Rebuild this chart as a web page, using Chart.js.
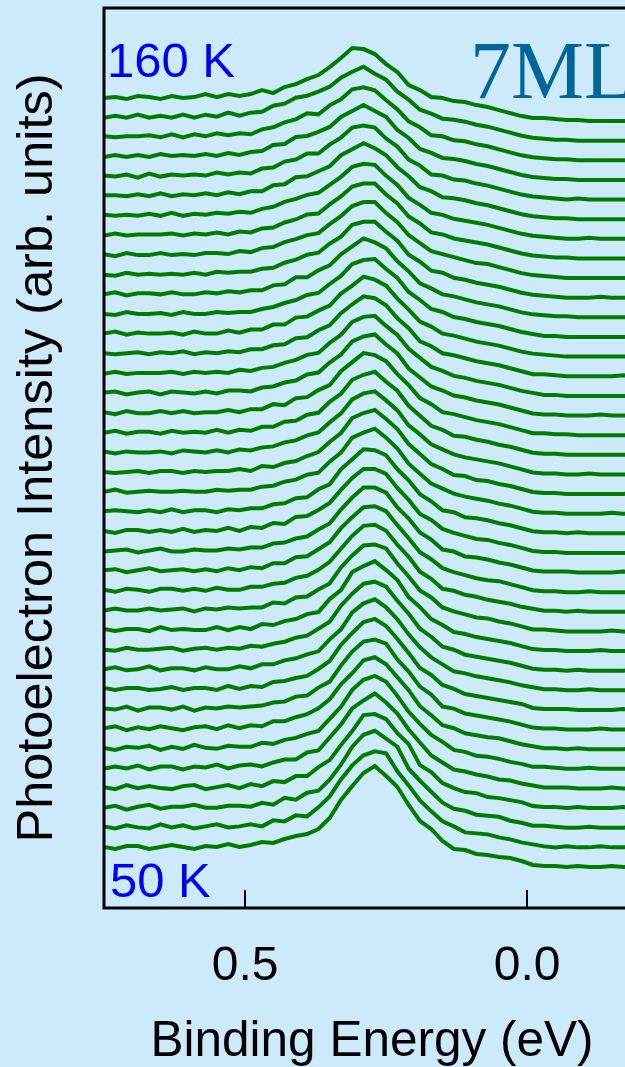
<!DOCTYPE html>
<html>
<head>
<meta charset="utf-8">
<script src="https://cdn.jsdelivr.net/npm/chart.js@4.4.0/dist/chart.umd.min.js"></script>
<style>
html,body{margin:0;padding:0;background:#cdeafb;overflow:hidden;width:625px;height:1067px;}
#wrap{width:650px;height:1067px;}
canvas{display:block;}
</style>
</head>
<body>
<div id="wrap"><canvas id="c" width="650" height="1067"></canvas></div>
<script>
// Binding energy grid (eV), high to low
const energy = [0.75,0.73,0.71,0.69,0.67,0.65,0.63,0.61,0.59,0.57,0.55,0.53,0.51,0.49,0.47,0.45,0.43,0.41,0.39,0.37,0.35,0.33,0.31,0.29,0.27,0.25,0.23,0.21,0.19,0.17,0.15,0.13,0.11,0.09,0.07,0.05,0.03,0.01,-0.01,-0.03,-0.05,-0.07,-0.09,-0.11,-0.13,-0.15,-0.17,-0.19,-0.21];
const xTicks = [0.5, 0.0];
const tempLabels = ['160 K', '50 K'];
const sampleLabel = '7ML';

// Spectra, bottom (50 K) to top (160 K), intensity in arb. units (before offset)
const curve00 = [20,18,21,21,18,20,22,20,18,21,20,23,20, 22,25,24,28,31,33,38, 49,67,81,94,101,91,80,62,46,38,26, 18,17,13,12,10,9,6,2,1,1,0,1,0,0,1,0,0,0];
const curve01 = [21,19,22,20,19,23,20,22,19,21,23,20,21, 23,21,27,26,32,31,40, 51,68,82,92,96,94,76,62,47,36,26, 21,15,14,13,10,8,5,3,1,0,1,0,0,1,0,0,0,0];
const curve02 = [20,22,18,21,23,19,21,21,23,20,20,22,22, 21,25,23,30,28,35,37, 48,63,81,93,97,89,81,59,47,36,25, 19,17,13,12,11,7,5,2,2,1,0,0,1,0,0,0,1,0];
const curve03 = [21,19,23,20,22,20,19,22,23,19,21,23,20, 24,22,27,26,32,32,41, 48,63,77,93,94,89,75,64,43,36,25, 20,16,15,11,10,8,6,2,1,1,0,1,0,0,0,1,0,0];
const curve04 = [20,22,20,23,19,22,22,19,22,21,24,20,23, 24,22,26,29,29,36,38, 51,64,80,88,95,86,75,59,46,33,26, 19,17,14,12,9,8,5,3,1,1,1,0,0,0,1,0,0,0];
const curve05 = [21,19,22,21,23,19,22,20,24,21,20,23,22, 22,26,25,29,31,35,38, 50,62,79,89,93,87,73,57,45,34,27, 19,17,13,12,10,7,5,2,2,1,0,0,1,0,0,0,0,0];
const curve06 = [21,23,19,22,20,23,21,19,22,23,20,24,21, 24,23,28,28,32,35,41, 50,65,76,89,92,85,72,59,43,34,24, 21,16,14,12,11,8,5,3,1,1,0,1,0,0,0,0,1,0];
const curve07 = [21,20,23,19,22,22,20,23,19,22,21,23,22, 23,24,27,28,33,34,42, 48,64,78,88,90,86,70,58,43,35,23, 21,16,14,12,10,8,5,2,1,1,0,0,0,1,0,0,0,0];
const curve08 = [22,20,22,22,20,21,23,20,22,22,20,24,21, 24,23,28,29,32,34,41, 49,65,77,88,91,84,71,57,42,35,25, 21,16,14,12,10,8,6,2,1,1,1,0,0,0,0,1,0,0];
const curve09 = [21,23,20,21,24,20,22,22,20,23,21,21,24, 22,26,26,30,32,36,39, 51,61,78,87,91,83,71,56,43,33,26, 19,17,14,12,10,8,5,3,1,1,0,0,1,0,0,0,0,0];
const curve10 = [21,20,23,21,21,22,23,20,22,23,21,23,22, 25,24,27,29,33,35,42, 49,65,77,87,89,84,70,57,42,34,24, 21,16,14,12,10,8,5,2,1,1,0,1,0,0,0,0,1,0];
const curve11 = [22,20,22,22,20,24,21,22,21,21,24,21,24, 22,27,26,30,32,37,39, 52,61,79,85,90,81,71,54,44,32,26, 19,17,14,12,10,8,5,2,1,1,0,0,0,1,0,0,0,0];
const curve12 = [21,23,21,21,23,21,22,23,20,23,22,24,23, 24,24,29,28,34,35,42, 48,64,76,86,87,83,68,55,41,34,24, 20,17,14,13,10,8,5,2,2,1,0,0,0,0,1,0,0,0];
const curve13 = [22,20,23,22,20,23,23,21,23,21,24,22,22, 25,25,28,29,34,36,42, 50,63,76,86,87,81,67,55,40,33,23, 21,17,15,12,10,8,5,3,1,1,0,1,0,0,0,0,0,0];
const curve14 = [22,23,20,22,24,21,22,23,21,23,21,24,22, 25,24,29,29,35,36,43, 50,64,75,85,86,81,67,54,40,33,24, 20,17,14,12,11,8,5,2,1,1,0,0,1,0,0,0,0,0];
const curve15 = [21,22,23,20,22,24,21,21,23,22,22,24,23, 25,25,29,30,34,36,43, 49,63,75,85,85,80,65,54,40,33,23, 21,16,15,13,10,8,5,2,1,1,1,0,0,0,0,1,0,0];
const curve16 = [22,20,23,23,21,23,21,24,21,23,22,25,22, 26,25,30,29,36,37,43, 50,63,75,84,84,79,65,53,39,33,24, 20,17,14,13,10,8,5,2,1,1,0,0,0,0,0,0,0,0];
const curve17 = [22,23,22,21,23,21,24,21,23,23,21,24,23, 25,25,29,30,35,36,44, 49,64,74,84,83,78,64,53,39,32,23, 21,16,15,13,10,8,5,2,1,1,0,1,0,0,0,0,0,0];
const curve18 = [22,24,21,22,23,22,22,23,22,22,24,23,24, 24,27,28,32,34,39,41, 52,61,76,81,85,76,65,50,40,30,25, 20,17,15,13,10,8,5,2,1,1,0,0,0,0,1,0,0,0];
const curve19 = [22,21,22,23,21,23,23,21,23,22,23,23,25, 23,28,27,31,33,38,42, 52,61,76,81,84,75,65,50,40,30,25, 19,18,14,13,10,8,5,2,1,1,0,0,0,0,0,0,1,0];
const curve20 = [23,21,23,22,22,23,21,24,23,22,24,22,25, 24,27,28,32,34,39,42, 52,61,75,81,83,74,64,49,40,30,25, 20,17,15,13,11,8,5,2,1,1,0,0,1,0,0,0,0,0];
const curve21 = [22,24,21,23,23,21,24,22,23,22,25,22,25, 24,28,28,33,34,40,42, 53,61,75,80,83,73,64,49,39,29,25, 19,18,15,13,10,8,5,2,1,1,0,0,0,0,0,0,0,0];
const curve22 = [23,21,24,22,22,24,22,24,22,23,23,25,23, 26,26,31,30,37,38,45, 50,64,73,82,80,74,61,50,37,31,23, 21,18,15,13,11,8,5,2,2,1,1,0,0,0,0,0,0,0];
const curve23 = [23,24,21,23,24,21,24,23,22,24,22,25,25, 24,28,29,33,35,41,43, 53,61,74,79,81,71,62,47,38,29,25, 20,18,15,13,11,8,5,2,1,1,0,0,0,1,0,0,0,0];
const curve24 = [22,24,22,23,23,23,24,22,24,23,24,23,26, 25,28,29,33,36,41,43, 53,61,74,79,80,70,61,47,38,29,25, 20,18,15,13,11,8,5,3,1,1,0,0,0,0,0,0,0,0];
const curve25 = [23,22,23,24,22,24,23,25,22,24,23,25,24, 27,27,31,32,38,39,46, 51,63,72,80,78,71,58,48,35,30,23, 21,18,15,13,11,8,5,2,2,1,0,0,0,0,0,1,0,0];
const curve26 = [23,25,22,24,23,23,24,22,25,23,23,26,24, 27,27,32,32,39,40,46, 51,63,71,80,77,71,58,47,35,30,23, 21,18,15,13,11,8,5,3,2,1,0,0,0,0,0,0,0,0];
const curve27 = [23,22,25,23,23,24,22,25,23,23,25,24,25, 25,28,30,34,37,42,44, 53,61,73,77,78,68,59,45,37,28,25, 20,18,15,13,11,8,5,3,1,1,0,0,0,0,0,0,0,0];
const curve28 = [23,25,22,24,24,23,25,23,23,25,24,26,25, 27,27,32,33,40,40,47, 52,63,71,79,75,69,56,46,34,29,23, 21,18,15,13,11,8,5,3,2,1,1,0,0,0,0,0,0,0];
const curve29 = [23,22,25,23,24,23,24,23,25,23,26,25,26, 26,29,30,35,38,43,45, 54,61,73,76,76,66,57,43,36,27,25, 20,18,15,13,11,8,5,3,2,1,0,0,0,1,0,0,0,0];
const curve30 = [24,22,25,23,23,25,23,24,23,25,25,24,27, 26,30,31,36,39,43,45, 54,62,72,76,76,65,56,43,35,27,24, 21,18,15,14,11,8,5,3,2,1,0,0,0,0,0,0,0,0];
const curve31 = [23,25,23,24,24,24,25,23,25,24,26,24,27, 26,30,31,36,39,44,45, 54,62,72,75,75,64,55,42,35,26,24, 20,18,16,14,11,8,5,3,2,1,1,0,0,0,0,0,0,0];
const curve32 = [24,23,24,23,25,23,26,23,25,24,26,25,27, 26,30,32,37,40,44,46, 54,62,72,75,74,63,54,41,34,26,24, 20,18,16,14,11,8,5,3,2,1,0,0,1,0,0,0,0,0];
const curve33 = [24,24,23,25,23,26,23,25,24,26,24,27,25, 28,28,34,35,42,43,48, 53,64,70,76,71,64,52,43,32,28,22, 21,19,16,14,11,8,5,3,2,1,1,0,0,0,0,0,0,0];
const curve34 = [24,23,25,22,26,23,25,24,25,24,27,25,27, 26,31,32,38,40,46,46, 55,62,72,74,72,61,53,40,34,25,24, 20,19,16,14,11,8,5,3,2,1,0,1,0,0,0,0,0,0];
const curve35 = [23,25,23,25,23,26,24,25,24,26,24,27,25, 28,29,35,36,43,44,48, 53,63,69,75,69,63,50,42,31,27,22, 21,19,16,14,11,8,5,3,2,1,1,0,0,0,0,0,0,0];
const curve36 = [24,23,24,24,25,23,26,23,26,24,27,25,27, 26,31,33,38,41,47,46, 55,61,71,73,70,60,51,39,33,25,24, 20,19,16,14,11,8,5,3,2,1,1,0,0,0,0,0,0,0];
const curve37 = [23,25,23,26,23,25,23,26,23,26,24,28,25, 28,29,35,37,43,45,49, 54,63,69,74,67,61,49,41,31,27,22, 21,19,16,14,11,8,5,3,2,1,1,0,0,0,0,0,0,0];
const curve38 = [23,24,22,25,24,22,25,23,24,27,24,27,25, 27,31,28,34,37,42,46, 54,63,73,72,67,57,49,36,31,24,23, 20,19,16,14,11,8,5,3,3,2,1,1,0,0,0,0,0,0];

const curves = [curve00,curve01,curve02,curve03,curve04,curve05,curve06,curve07,curve08,curve09,
  curve10,curve11,curve12,curve13,curve14,curve15,curve16,curve17,curve18,curve19,
  curve20,curve21,curve22,curve23,curve24,curve25,curve26,curve27,curve28,curve29,
  curve30,curve31,curve32,curve33,curve34,curve35,curve36,curve37,curve38];

// waterfall layout
const baseOffset = 41;
const offsetStep = 19.63;

const datasets = curves.map((c, i) => ({
  data: c.map((v, k) => ({x: energy[k], y: v + baseOffset + i * offsetStep})),
  borderColor: '#007d00',
  borderWidth: 4,
  pointRadius: 0,
  tension: 0,
  fill: false
}));

const SANS = '"Liberation Sans", Arial, sans-serif';

const decor = {
  id: 'decor',
  afterDatasetsDraw(chart) {
    const {ctx, chartArea: a, scales} = chart;
    ctx.save();
    // frame
    ctx.strokeStyle = '#000';
    ctx.lineWidth = 3;
    ctx.strokeRect(a.left, a.top, a.right - a.left, a.bottom - a.top);
    // inward tick marks
    ctx.lineWidth = 2;
    xTicks.forEach(v => {
      const x = Math.round(scales.x.getPixelForValue(v));
      ctx.beginPath();
      ctx.moveTo(x, a.bottom);
      ctx.lineTo(x, a.bottom - 18);
      ctx.stroke();
    });
    // labels
    ctx.fillStyle = '#0000f2';
    ctx.font = '49px ' + SANS;
    ctx.textBaseline = 'alphabetic';
    ctx.textAlign = 'left';
    ctx.fillText(tempLabels[0], a.left + 3, a.top + 69);
    ctx.fillText(tempLabels[1], a.left + 6, a.bottom - 11);
    ctx.fillStyle = '#006699';
    ctx.font = '82px "Liberation Serif", "Times New Roman", serif';
    ctx.fillText(sampleLabel, 470, a.top + 90);
    ctx.restore();
  }
};

new Chart(document.getElementById('c'), {
  type: 'line',
  data: {datasets},
  options: {
    responsive: false,
    animation: false,
    events: [],
    layout: {padding: {top: 8, right: 10, left: 0, bottom: 0}},
    plugins: {legend: {display: false}, tooltip: {enabled: false}},
    scales: {
      x: {
        type: 'linear',
        reverse: true,
        min: -0.2,
        max: 0.75,
        afterFit: s => { s.height = 159; },
        afterBuildTicks: s => { s.ticks = xTicks.map(v => ({value: v})); },
        grid: {display: false, drawTicks: false},
        border: {display: false},
        ticks: {
          padding: 30,
          color: '#000',
          font: {family: SANS, size: 48},
          maxRotation: 0,
          autoSkip: false,
          callback: v => Number(v).toFixed(1)
        },
        title: {
          display: true,
          text: 'Binding Energy (eV)',
          color: '#000',
          font: {family: SANS, size: 49.5, lineHeight: 1.0},
          padding: {top: 0, bottom: 0}
        }
      },
      y: {
        type: 'linear',
        min: 0,
        max: 900,
        afterFit: s => { s.width = 104; },
        grid: {display: false, drawTicks: false},
        border: {display: false},
        ticks: {display: false},
        title: {
          display: true,
          text: 'Photoelectron Intensity (arb. units)',
          color: '#000',
          font: {family: SANS, size: 50.5, lineHeight: 1.2},
          padding: {top: 8, bottom: 0}
        }
      }
    }
  },
  plugins: [decor]
});
</script>
</body>
</html>
